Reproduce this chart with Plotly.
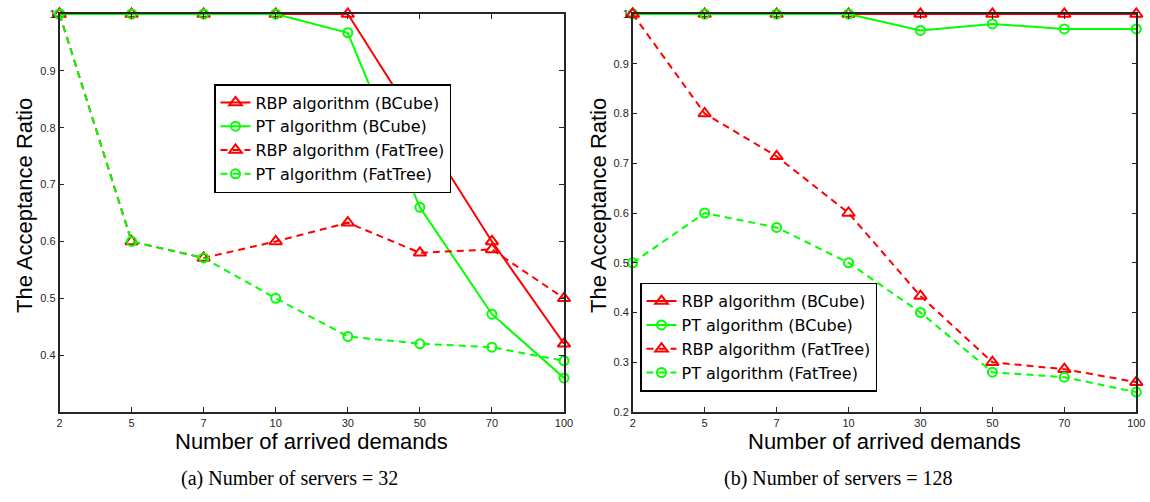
import plotly.graph_objects as go

demands = ["2", "5", "7", "10", "30", "50", "70", "100"]

# Number of servers = 32
rbp_bcube_32 = [1, 1, 1, 1, 1, 0.80, 0.60, 0.42]
pt_bcube_32 = [1, 1, 1, 1, 0.967, 0.66, 0.472, 0.36]
rbp_fattree_32 = [1, 0.60, 0.571, 0.60, 0.633, 0.58, 0.586, 0.50]
pt_fattree_32 = [1, 0.60, 0.571, 0.50, 0.433, 0.42, 0.414, 0.39]

# Number of servers = 128
rbp_bcube_128 = [1, 1, 1, 1, 1, 1, 1, 1]
pt_bcube_128 = [1, 1, 1, 1, 0.967, 0.98, 0.97, 0.97]
rbp_fattree_128 = [1, 0.80, 0.714, 0.60, 0.433, 0.30, 0.286, 0.26]
pt_fattree_128 = [0.50, 0.60, 0.571, 0.50, 0.40, 0.28, 0.27, 0.24]

ytick_left = [0.4, 0.5, 0.6, 0.7, 0.8, 0.9, 1.0]
ytext_left = ["0.4", "0.5", "0.6", "0.7", "0.8", "0.9", "1"]
ytick_right = [0.2, 0.3, 0.4, 0.5, 0.6, 0.7, 0.8, 0.9, 1.0]
ytext_right = ["0.2", "0.3", "0.4", "0.5", "0.6", "0.7", "0.8", "0.9", "1"]

names = ["RBP algorithm (BCube)", "PT algorithm (BCube)",
         "RBP algorithm (FatTree)", "PT algorithm (FatTree)"]

RED = "#FF0000"
GREEN = "#00FF00"
DASH = "7px,5px"

styles = [
    dict(color=RED, dash="solid", symbol="triangle-up-open", size=11),
    dict(color=GREEN, dash="solid", symbol="circle-open", size=9),
    dict(color=RED, dash=DASH, symbol="triangle-up-open", size=11),
    dict(color=GREEN, dash=DASH, symbol="circle-open", size=9),
]

fig = go.Figure()

left_series = [rbp_bcube_32, pt_bcube_32, rbp_fattree_32, pt_fattree_32]
right_series = [rbp_bcube_128, pt_bcube_128, rbp_fattree_128, pt_fattree_128]

for ys, nm, st in zip(left_series, names, styles):
    fig.add_trace(go.Scatter(
        x=demands, y=ys, name=nm, mode="lines+markers",
        xaxis="x", yaxis="y", legend="legend", cliponaxis=False,
        line=dict(color=st["color"], width=2, dash=st["dash"]),
        marker=dict(symbol=st["symbol"], size=st["size"], color=st["color"],
                    line=dict(width=2, color=st["color"])),
    ))

for ys, nm, st in zip(right_series, names, styles):
    fig.add_trace(go.Scatter(
        x=demands, y=ys, name=nm, mode="lines+markers",
        xaxis="x2", yaxis="y2", legend="legend2", cliponaxis=False,
        line=dict(color=st["color"], width=2, dash=st["dash"]),
        marker=dict(symbol=st["symbol"], size=st["size"], color=st["color"],
                    line=dict(width=2, color=st["color"])),
    ))

AX = "#262626"
tickfont = dict(family="Liberation Sans", size=11, color=AX)
common_x = dict(type="category", range=[0, 7], showgrid=False, zeroline=False,
                showline=True, linecolor=AX, linewidth=1.5, mirror="ticks",
                ticks="inside", ticklen=5, tickcolor=AX, tickwidth=1,
                tickfont=tickfont, automargin=False)
common_y = dict(showgrid=False, zeroline=False, showline=True, linecolor=AX,
                linewidth=1.5, mirror="ticks", ticks="inside", ticklen=5,
                tickcolor=AX, tickwidth=1, tickfont=tickfont, automargin=False)

y_top = 1 - 14 / 502
y_bot = 1 - 412 / 502

legend_style = dict(font=dict(family="DejaVu Sans", size=16, color="#000"),
                    bgcolor="white", bordercolor="#000", borderwidth=1.5,
                    tracegroupgap=0, xanchor="left", yanchor="top")

fig.update_layout(
    width=1150, height=502,
    margin=dict(l=0, r=0, t=0, b=0, pad=0, autoexpand=False),
    paper_bgcolor="white", plot_bgcolor="white",
    showlegend=True,
    xaxis=dict(domain=[59.5 / 1150, 564 / 1150], anchor="y", **common_x),
    yaxis=dict(domain=[y_bot, y_top], anchor="x", range=[0.3, 1.0],
               tickvals=ytick_left, ticktext=ytext_left, **common_y),
    xaxis2=dict(domain=[632.7 / 1150, 1136.3 / 1150], anchor="y2", **common_x),
    yaxis2=dict(domain=[y_bot, y_top], anchor="x2", range=[0.2, 1.0],
                tickvals=ytick_right, ticktext=ytext_right, **common_y),
    legend=dict(x=214 / 1150, y=1 - 84 / 502, **legend_style),
    legend2=dict(x=640 / 1150, y=1 - 282.7 / 502, **legend_style),
)

title_font = dict(family="Liberation Sans", size=22, color="#000")
caption_font = dict(family="Liberation Serif", size=20, color="#000")

annotations = [
    dict(text="Number of arrived demands", x=311.75 / 1150, y=1 - 441 / 502),
    dict(text="Number of arrived demands", x=884.5 / 1150, y=1 - 441 / 502),
]
for a in annotations:
    fig.add_annotation(xref="paper", yref="paper", showarrow=False,
                       xanchor="center", yanchor="middle", font=title_font, **a)

for xc in [24, 598]:
    fig.add_annotation(text="The Acceptance Ratio", xref="paper", yref="paper",
                       x=xc / 1150, y=1 - 206 / 502, textangle=-90,
                       showarrow=False, xanchor="center", yanchor="middle",
                       font=title_font)

fig.add_annotation(text="(a) Number of servers = 32", xref="paper", yref="paper",
                   x=289 / 1150, y=1 - 478 / 502, showarrow=False,
                   xanchor="center", yanchor="middle", font=caption_font)
fig.add_annotation(text="(b) Number of servers = 128", xref="paper", yref="paper",
                   x=838 / 1150, y=1 - 478 / 502, showarrow=False,
                   xanchor="center", yanchor="middle", font=caption_font)

fig.write_html("out.html")
